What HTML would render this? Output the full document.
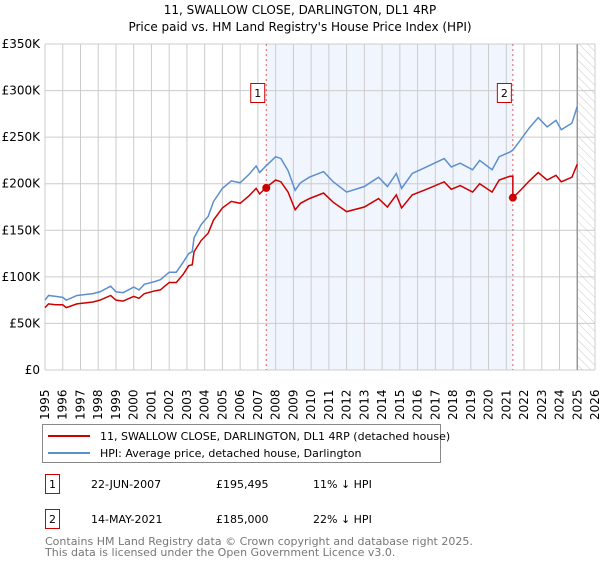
<!DOCTYPE html>
<html><head><meta charset="utf-8"><style>
body{margin:0;background:#fff;font-family:"DejaVu Sans","Liberation Sans",sans-serif;}
svg text{font-family:"DejaVu Sans","Liberation Sans",sans-serif;}
</style></head><body>
<svg id="c" width="600" height="560" xmlns="http://www.w3.org/2000/svg">
<defs><pattern id="hatch" width="6" height="6" patternUnits="userSpaceOnUse" patternTransform="rotate(-45)"><line x1="0" y1="0" x2="0" y2="6" stroke="#ccc" stroke-width="1"/></pattern></defs>
<text x="300" y="14" text-anchor="middle" font-size="12">11, SWALLOW CLOSE, DARLINGTON, DL1 4RP</text>
<text x="300" y="31" text-anchor="middle" font-size="12">Price paid vs. HM Land Registry's House Price Index (HPI)</text>
<g id="grid"></g>
<g id="marks"></g>
<g id="legend">
<rect x="42.5" y="424.5" width="398" height="38" fill="#fff" stroke="#888"/>
<line x1="48" y1="436" x2="90" y2="436" stroke="#cc0000" stroke-width="2"/>
<text x="100" y="440" font-size="11">11, SWALLOW CLOSE, DARLINGTON, DL1 4RP (detached house)</text>
<line x1="48" y1="453" x2="90" y2="453" stroke="#5b8fd0" stroke-width="2"/>
<text x="100" y="457" font-size="11">HPI: Average price, detached house, Darlington</text>
</g>
<g>
<rect x="45.5" y="474.5" width="14" height="19" fill="#fff" stroke="#cc0000"/>
<text x="52.5" y="488" text-anchor="middle" font-size="11">1</text>
<text x="91" y="488" font-size="11">22-JUN-2007</text>
<text x="216" y="488" font-size="11">£195,495</text>
<text x="313" y="488" font-size="11">11% ↓ HPI</text>
</g>
<g>
<rect x="45.5" y="509.5" width="14" height="19" fill="#fff" stroke="#cc0000"/>
<text x="52.5" y="523" text-anchor="middle" font-size="11">2</text>
<text x="91" y="523" font-size="11">14-MAY-2021</text>
<text x="216" y="523" font-size="11">£185,000</text>
<text x="313" y="523" font-size="11">22% ↓ HPI</text>
</g>
<text x="45" y="545" font-size="11" fill="#777">Contains HM Land Registry data © Crown copyright and database right 2025.</text>
<text x="45" y="556" font-size="11" fill="#777">This data is licensed under the Open Government Licence v3.0.</text>
</svg>
<script>
const years=[1995,1996,1997,1998,1999,2000,2001,2002,2003,2004,2005,2006,2007,2008,2009,2010,2011,2012,2013,2014,2015,2016,2017,2018,2019,2020,2021,2022,2023,2024,2025,2026];
const yTicks=[0,50,100,150,200,250,300,350];
const yTickLabels=["£0","£50K","£100K","£150K","£200K","£250K","£300K","£350K"];
const hpiT=[1995,1995.2,1995.6,1996,1996.2,1996.8,1997.7,1998.1,1998.7,1999,1999.4,2000,2000.3,2000.6,2001.2,2001.5,2002,2002.4,2002.8,2003.1,2003.3,2003.4,2003.8,2004.2,2004.5,2005,2005.5,2006,2006.5,2006.9,2007.1,2007.4,2008,2008.3,2008.7,2009.1,2009.4,2009.9,2010.7,2011.25,2012,2013,2013.8,2014.3,2014.8,2015.1,2015.7,2016.5,2017.5,2017.9,2018.4,2019.1,2019.5,2020.2,2020.6,2021.2,2021.37,2021.8,2022.3,2022.8,2023.3,2023.8,2024.1,2024.7,2025];
const hpiV=[75,80,79,78,75,80,82,84,90,84,83,89,86,92,95,97,105,105,116,125,127,142,156,165,181,195,203,201,210,219,212,218,229,227,214,193,201,207,213,202,191,197,207,197,211,195,211,218,227,218,222,215,225,215,229,234,236,247,260,271,261,268,258,265,283];
const ppT=[1995,1995.2,1995.6,1996,1996.2,1996.8,1997.7,1998.1,1998.7,1999,1999.4,2000,2000.3,2000.6,2001.2,2001.5,2002,2002.4,2002.8,2003.1,2003.3,2003.4,2003.8,2004.2,2004.5,2005,2005.5,2006,2006.5,2006.9,2007.1,2007.4,2008,2008.3,2008.7,2009.1,2009.4,2009.9,2010.7,2011.25,2012,2013,2013.8,2014.3,2014.8,2015.1,2015.7,2016.5,2017.5,2017.9,2018.4,2019.1,2019.5,2020.2,2020.6,2021.2,2021.37,2021.37,2021.8,2022.3,2022.8,2023.3,2023.8,2024.1,2024.7,2025];
const ppV=[67,71,70,70,67,71,73,75,80,75,74,79,77,82,85,86,94,94,103,112,113,127,139,147,161,174,181,179,187,195,189,195,204,202,191,172,179,184,190,180,170,175,184,175,188,174,188,194,202,194,198,191,200,191,204,208,208,185,193,203,212,204,209,202,207,221];
const sales=[{n:"1",t:2007.47,v:195.495},{n:"2",t:2021.37,v:185}];
const L=45,R=595,T=44,B=370;
const x=t=>L+(t-1995)/31*(R-L);
const y=v=>B-v/350*(B-T);
const NS="http://www.w3.org/2000/svg";
const grid=document.getElementById('grid'),marks=document.getElementById('marks');
function mk(tag,attrs,parent){const e=document.createElementNS(NS,tag);for(const k in attrs)e.setAttribute(k,attrs[k]);parent.appendChild(e);return e;}
// shaded period
const sh=mk('rect',{x:x(sales[0].t),y:T,width:x(sales[1].t)-x(sales[0].t),height:B-T,fill:'#eef3fc',opacity:0.8},grid);


const hz=mk('rect',{x:x(2025),y:T,width:R-x(2025),height:B-T,fill:'url(#hatch)'},grid);


years.forEach(yr=>{
 const g=mk('line',{x1:x(yr),x2:x(yr),y1:T,y2:B,stroke:'#ccc','stroke-width':1},grid);
 
 
 const tx=mk('text',{x:0,y:0,'font-size':12,transform:`translate(${x(yr)+4},${420}) rotate(-90)`},grid);
 tx.textContent=yr;
 
 
});
yTicks.forEach((v,i)=>{
 const g=mk('line',{x1:L,x2:R,y1:y(v),y2:y(v),stroke:'#ccc','stroke-width':1},grid);
 
 
 const tx=mk('text',{x:40,y:y(v)+4,'text-anchor':'end','font-size':12},grid);
 tx.textContent=yTickLabels[i];
 
 
});
const nl=mk('line',{x1:x(2025),x2:x(2025),y1:T,y2:B,stroke:'#999','stroke-width':1.5},grid);


sales.forEach(s=>{
 const d=mk('line',{x1:x(s.t),x2:x(s.t),y1:T,y2:B,stroke:'#e06060','stroke-dasharray':'2,3','stroke-width':1},marks);
 
 
});
const hp=mk('polyline',{points:hpiT.map((t,i)=>x(t)+','+y(hpiV[i])).join(' '),fill:'none',stroke:'#5b8fd0','stroke-width':1.5},marks);


const pp=mk('polyline',{points:ppT.map((t,i)=>x(t)+','+y(ppV[i])).join(' '),fill:'none',stroke:'#cc0000','stroke-width':1.5},marks);


sales.forEach(s=>{
 const c=mk('circle',{cx:x(s.t),cy:y(s.v),r:4,fill:'#cc0000'},marks);
 
 
 const bx=mk('rect',{x:x(s.t)-15.5,y:83.5,width:14,height:19,fill:'#fff',stroke:'#cc0000'},marks);
 
 
 const tx=mk('text',{x:x(s.t)-8.5,y:97,'text-anchor':'middle','font-size':11},marks);
 tx.textContent=s.n;
 
 
});
</script>
</body></html>
